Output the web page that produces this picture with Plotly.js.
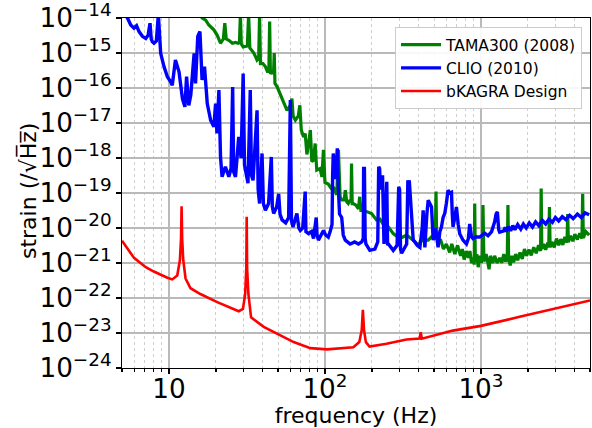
<!DOCTYPE html>
<html>
<head>
<meta charset="utf-8">
<script src="https://cdn.plot.ly/plotly-3.0.1.min.js"></script>
<style>html,body{margin:0;padding:0;background:#fff;}#chart{width:592px;height:428px;}</style>
</head>
<body>
<div id="chart"></div>
<script>
// TAMA300 (2008)
const tamaFreq = [16.0,16.3,17.2,18.0,19.4,20.4,21.4,22.3,22.8,23.3,24.2,25.5,26.7,27.8,28.3,28.7,29.1,29.9,31.8,32.4,33.0,33.8,35.0,36.7,37.6,38.1,38.6,40.0,41.5,43.0,43.7,44.2,44.7,46.0,46.8,47.3,47.8,49.3,52.0,54.3,57.1,60.0,61.4,62.5,64.6,67.5,69.0,70.5,72.9,74.7,76.6,78.5,80.6,82.4,84.5,86.5,88.6,93.1,95.6,97.8,100,105,111,113,119,122,125,128,133,135,138,141,145,147,148,149.5,152,158,164,167,170,176,188,199,214,225,236,255,274,302,334,368,396,420,459,482,510,515,520,552,575,600,630,650,680,708,740,760,780,805,830,850,870,900,905,912,920,940,960,985,1005,1020,1030,1045,1080,1110,1127,1150,1190,1224,1270,1318,1360,1400,1440,1475,1489,1505,1540,1580,1620,1670,1720,1780,1840,1900,1960,2030,2100,2180,2260,2340,2410,2432,2455,2520,2600,2680,2720,2748,2775,2850,2950,3050,3150,3250,3350,3450,3560,3597,3635,3750,3880,4000,4150,4300,4440,4487,4530,4700,4940];
const tamaStrain = [1.26e-14,1.0e-14,8.7e-15,6.3e-15,4.6e-15,3.2e-15,1.9e-15,2.5e-15,7.1e-15,2.5e-15,2.3e-15,1.9e-15,2.0e-15,1.9e-15,2.0e-15,1.26e-14,1.8e-15,1.5e-15,1.6e-15,1.26e-14,1.4e-15,1.2e-15,1.0e-15,6.3e-16,7.1e-16,1.26e-14,5.0e-16,5.0e-16,4.1e-16,2.8e-16,3.2e-16,7.9e-15,2.5e-16,3.2e-16,2.5e-16,1.0e-15,1.35e-16,1.1e-16,6.3e-17,4.0e-17,2.3e-17,3.2e-17,5.0e-17,1.6e-17,1.2e-17,1.6e-17,3.2e-17,6.3e-18,4.0e-18,5.0e-18,1.26e-18,2.5e-18,6.3e-18,7.9e-19,8.7e-19,2.6e-18,4.5e-19,5.0e-19,2.9e-19,1.7e-18,2.0e-19,1.8e-19,1.26e-19,1.5e-19,8.9e-20,1.7e-18,7.9e-20,6.3e-20,6.3e-20,1.2e-19,5.6e-20,5.0e-20,6.3e-20,5.6e-20,6.9e-19,5.0e-20,5.0e-20,4.5e-20,3.5e-20,7.8e-20,3.2e-20,3.2e-20,2.8e-20,2.6e-20,1.7e-20,1.8e-20,1.3e-20,1.07e-20,6.9e-21,5.0e-21,6.3e-21,4.5e-21,3.2e-21,4.5e-21,4.5e-21,5.6e-21,6.3e-21,1.1e-19,5.0e-21,4.5e-21,2.5e-21,3.5e-21,2.0e-21,3.5e-21,1.8e-21,3.2e-21,1.6e-21,2.5e-21,1.26e-21,2.2e-21,1.4e-21,2.2e-21,1.0e-21,1.4e-21,8.9e-22,5.0e-20,1.1e-21,1.8e-21,7.6e-22,1.6e-21,1.0e-21,1.6e-21,4.5e-20,1.1e-21,1.8e-21,7.9e-22,6.6e-22,1.6e-21,1.0e-21,1.6e-21,1.0e-21,1.4e-21,1.0e-21,1.8e-21,1.1e-21,1.6e-21,4.5e-20,1.26e-21,8.5e-22,1.6e-21,1.05e-21,1.8e-21,1.2e-21,2.0e-21,1.3e-21,2.5e-21,1.6e-21,2.4e-21,1.66e-21,2.8e-21,1.9e-21,3.2e-21,2.2e-21,1.35e-19,2.5e-21,3.5e-21,2.4e-21,3.8e-21,2.8e-21,4.0e-20,2.8e-21,4.0e-21,2.8e-21,5.0e-21,3.2e-21,4.8e-21,3.3e-21,5.6e-21,3.8e-21,2.5e-20,4.0e-21,6.0e-21,4.2e-21,6.6e-21,4.7e-21,7.1e-21,5.0e-21,9.5e-20,5.2e-21,7.9e-21,6.3e-21];

// CLIO (2010)
const clioFreq = [5.0,5.42,5.69,5.97,6.2,6.43,6.76,7.10,7.35,7.56,7.7,7.83,8.02,8.3,8.55,8.7,8.85,9.29,9.77,10.25,10.5,11.0,11.3,11.6,12.2,12.65,12.97,13.4,13.8,14.5,14.8,15.3,15.8,16.3,16.9,17.6,18.5,19.4,19.9,20.3,20.9,21.4,21.9,23.0,24.2,25.0,25.6,26.0,26.7,28.0,29.0,29.9,30.5,30.9,32.1,33.2,33.8,34.6,36.7,37.3,38.1,39.5,40.3,41.5,43.5,45.3,46.0,46.9,49.0,50.5,51.5,53.1,56.0,58.5,60.0,61.0,62.4,64.0,66.1,68.0,69.5,72.0,74.7,75.5,78.5,82.0,84.5,87.9,89.0,90.8,94.0,97.8,101,105,108,111,112,113,117,120,122,124,128,131,135,145,155,164,172,176,177,179,181,183,194,209,218,221,224,227,234,237,239,245,249,252,255,274,290,297,301,305,310,334,340,343,347,352,355,361,368,377,390,406,420,426,431,437,450,459,470,482,494,508,519,531,545,558,572,586,600,615,630,647,655,662,680,696,715,731,767,807,830,847,870,889,930,982,1057,1110,1170,1224,1250,1274,1300,1318,1400,1430,1454,1500,1550,1600,1650,1720,1800,1870,1950,2040,2140,2240,2350,2470,2600,2730,2870,3000,3150,3320,3500,3700,3900,4150,4400,4650,4940];
const clioStrain = [1.6e-14,1.0e-14,6.3e-15,5.1e-15,6.0e-15,4.1e-15,3.0e-15,2.6e-15,3.2e-15,7.1e-15,2.5e-15,2.1e-15,1.9e-15,2.2e-15,1.26e-14,2.5e-15,9.8e-16,4.1e-16,2.1e-16,1.5e-16,1.2e-16,6.3e-16,4.0e-16,2.9e-16,5.0e-17,2.9e-17,2.1e-16,3.2e-17,6.3e-17,9.8e-16,1.35e-16,3.0e-15,4.1e-15,1.7e-16,4.1e-16,3.6e-17,1.2e-17,7.8e-18,3.6e-17,5.0e-18,8.7e-17,1.07e-18,2.9e-19,5.6e-19,2.9e-19,5.0e-19,1.07e-16,4.0e-19,2.9e-19,4.0e-18,1.0e-18,2.6e-16,6.3e-19,4.5e-19,1.9e-19,8.7e-17,3.2e-19,2.3e-19,2.3e-17,1.26e-19,5.0e-20,1.35e-18,5.0e-20,3.2e-20,5.0e-20,1.07e-18,4.0e-20,2.6e-20,4.0e-20,9.5e-20,2.5e-20,1.7e-20,1.4e-20,2.0e-20,4.5e-17,1.6e-20,1.07e-20,1.6e-20,2.6e-20,1.0e-20,8.5e-21,1.0e-20,1.1e-19,7.9e-21,6.9e-21,7.9e-21,5.0e-21,2.0e-20,6.3e-21,4.5e-21,6.3e-21,8.5e-21,6.3e-21,5.5e-21,7.9e-21,1.26e-20,3.2e-19,1.35e-18,2.5e-19,1.9e-18,1.26e-19,2.5e-20,2.0e-20,6.3e-21,4.5e-21,3.5e-21,4.0e-21,3.5e-21,4.0e-21,5.0e-21,5.0e-19,5.0e-19,5.0e-21,3.5e-21,2.3e-21,2.5e-21,4.0e-21,5.6e-19,5.0e-19,1.26e-19,3.2e-19,5.0e-21,3.5e-21,3.2e-20,2.1e-19,3.2e-21,3.5e-21,2.3e-21,3.2e-21,1.5e-19,1.26e-19,2.5e-21,1.9e-21,3.5e-21,2.3e-19,1.6e-19,2.3e-19,1.0e-19,4.0e-20,1.6e-20,4.5e-21,4.0e-21,3.2e-21,2.8e-21,1.0e-20,3.2e-20,5.0e-21,2.8e-21,2.5e-20,6.2e-20,5.0e-20,4.0e-20,4.5e-21,1.0e-20,6.3e-21,2.8e-21,7.9e-21,1.07e-20,2.0e-20,2.6e-20,5.0e-20,1.2e-19,1.0e-19,1.05e-19,2.5e-20,1.07e-20,2.0e-20,4.0e-20,1.26e-20,6.9e-21,4.5e-21,3.5e-21,5.0e-21,1.3e-20,5.6e-21,5.0e-21,5.6e-21,5.5e-21,7.1e-21,6.0e-21,7.9e-21,1.5e-20,2.5e-20,2.9e-20,8.9e-21,7.6e-21,8.3e-21,1.05e-20,7.9e-21,1.1e-20,8.3e-21,1.17e-20,8.9e-21,1.26e-20,9.3e-21,1.3e-20,1.0e-20,1.4e-20,1.07e-20,1.5e-20,1.17e-20,1.66e-20,1.3e-20,1.8e-20,1.45e-20,2.0e-20,1.6e-20,2.1e-20,1.74e-20,2.3e-20,1.86e-20,2.5e-20,2.0e-20,2.7e-20,2.4e-20];

// bKAGRA Design
const kagraFreq = [5.0,5.97,7.1,8.0,9.77,10.5,11.3,11.75,11.95,12.05,12.15,12.35,12.78,13.75,15.9,20.4,28.0,29.8,30.8,31.3,31.5,31.7,32.3,33.6,40.5,51.8,63,80.6,103,152,166,172,175,178,183,193,248,333,404,411,418,660,1000,1770,2900,5000];
const kagraStrain = [4.3e-21,1.4e-21,7.6e-22,5.7e-22,3.8e-22,3.4e-22,4.4e-22,1.2e-21,5.0e-21,4.2e-20,5.0e-21,1.2e-21,3.6e-22,1.9e-22,1.3e-22,7.6e-23,4.2e-23,4.9e-23,1.3e-22,7.0e-22,2.1e-20,7.0e-22,1.3e-22,2.8e-23,1.5e-23,8.4e-24,5.5e-24,3.7e-24,3.4e-24,3.9e-24,5.5e-24,1.2e-23,4.6e-23,1.2e-23,5.5e-24,4.1e-24,4.9e-24,6.5e-24,6.9e-24,1.05e-23,6.9e-24,1.17e-23,1.6e-23,2.9e-23,4.9e-23,8.5e-23];

const seriesNames = ['TAMA300 (2008)', 'CLIO (2010)', 'bKAGRA Design'];
const xTitle = 'frequency (Hz)';
const yTitle = 'strain (/\u221AH\u0305z\u0305)';

const font = 'DejaVu Sans';
const traces = [
  {x: tamaFreq, y: tamaStrain, name: seriesNames[0], mode: 'lines', line: {color: '#008000', width: 3.2}},
  {x: clioFreq, y: clioStrain, name: seriesNames[1], mode: 'lines', line: {color: '#0000ff', width: 3.4}},
  {x: kagraFreq, y: kagraStrain, name: seriesNames[2], mode: 'lines', line: {color: '#ff0000', width: 2.6}}
];

const axisCommon = {
  type: 'log', showline: true, linecolor: '#000', linewidth: 1.2, mirror: true,
  ticks: 'outside', ticklen: 5, tickcolor: '#000', tickwidth: 1.2,
  showgrid: true, gridcolor: '#b9b9b9', gridwidth: 1.2, zeroline: false,
  exponentformat: 'power', dtick: 1, ticklabeloverflow: 'allow',
  tickfont: {family: font, size: 21, color: '#000'}
};

const layout = {
  width: 592, height: 428,
  margin: {l: 122, r: 2, t: 18, b: 60},
  paper_bgcolor: '#fff', plot_bgcolor: '#fff',
  font: {family: font, color: '#000'},
  showlegend: true,
  legend: {
    x: 0.983, xanchor: 'right', y: 0.974, yanchor: 'top',
    bgcolor: 'rgba(255,255,255,0.9)', bordercolor: '#cccccc', borderwidth: 1,
    font: {family: font, size: 15.5, color: '#000'}, itemwidth: 40
  },
  xaxis: Object.assign({}, axisCommon, {
    range: [Math.log10(5), Math.log10(5000)],
    ticklabelstandoff: -7,
    title: {text: xTitle, font: {family: font, size: 22, color: '#000'}, standoff: 14},
    minor: {ticks: 'outside', ticklen: 3, tickcolor: '#000', showgrid: true, gridcolor: '#cfcfcf', griddash: 'dot', gridwidth: 1, dtick: 'D1'}
  }),
  yaxis: Object.assign({}, axisCommon, {
    range: [-24, -14]
  }),
  annotations: [{
    text: yTitle, xref: 'paper', yref: 'paper', x: -0.202, y: 0.507,
    xanchor: 'center', yanchor: 'middle', textangle: -90, showarrow: false,
    font: {family: font, size: 22, color: '#000'}
  }]
};

Plotly.newPlot('chart', traces, layout, {staticPlot: true, displayModeBar: false});
</script>
</body>
</html>
